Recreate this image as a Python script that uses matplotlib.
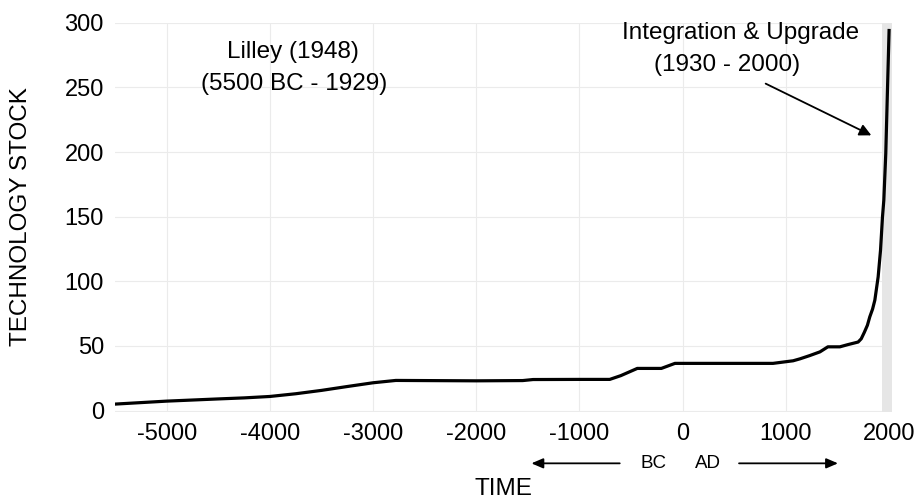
import matplotlib
matplotlib.use('Agg')
import matplotlib.pyplot as plt

plt.rcParams['font.family'] = ['Liberation Sans', 'DejaVu Sans']
plt.rcParams['axes.unicode_minus'] = False

# technology stock over time
years = [-5500, -5000, -4500, -4250, -4000, -3750, -3500, -3250, -3000, -2780,
         -2000, -1550, -1450, -1000, -707, -600, -440, -207, -75, 875,
         1070, 1136, 1230, 1330, 1407, 1523, 1600, 1700, 1730, 1760, 1790,
         1813, 1840, 1862, 1894, 1917, 1936, 1949, 1968, 1985, 2000]
stock = [5.0, 7.3, 9.0, 9.8, 10.9, 13.0, 15.6, 18.6, 21.5, 23.3,
         23.0, 23.2, 24.0, 24.1, 24.1, 27.0, 32.6, 32.6, 36.5, 36.5,
         38.5, 40.0, 42.5, 45.4, 49.3, 49.3, 51.0, 53.0, 55.5, 60.5, 66.0,
         72.5, 78.5, 85.4, 103.4, 124.0, 149.8, 162.7, 199.0, 250.0, 294.0]

x_ticks = [-5000, -4000, -3000, -2000, -1000, 0, 1000, 2000]
y_ticks = [0, 50, 100, 150, 200, 250, 300]

fig = plt.figure(figsize=(9.2, 5.01), dpi=100)
ax = fig.add_axes([0.125, 0.1782, 0.8442, 0.7764])

ax.set_xlim(-5501, 2025)
ax.set_ylim(-0.9, 299.7)
ax.set_xticks(x_ticks)
ax.set_yticks(y_ticks)
ax.grid(True, color='#ebebeb', lw=0.8)
ax.set_axisbelow(True)
for s in ax.spines.values():
    s.set_visible(False)
ax.tick_params(length=0, labelsize=17, colors='black')
ax.tick_params(axis='y', pad=8)
ax.tick_params(axis='x', pad=8)

# shaded period 1930-2000
ax.axvspan(1928, 2025, color='#e6e6e6', lw=0, zorder=1.5)
ax.plot(years, stock, color='black', lw=2.3, solid_joinstyle='round', zorder=3)

# annotations
ax.text(-3775, 273, 'Lilley (1948)', ha='center', va='baseline', fontsize=17.5)
ax.text(-3770, 247.7, '(5500 BC - 1929)', ha='center', va='baseline', fontsize=17.5)
ax.text(558, 287.6, 'Integration & Upgrade', ha='center', va='baseline', fontsize=17.5)
ax.text(429, 263, '(1930 - 2000)', ha='center', va='baseline', fontsize=17.5)
ax.annotate('', xy=(1828, 212.9), xytext=(804, 252.9),
            arrowprops=dict(arrowstyle='-|>,head_length=0.7,head_width=0.35',
                            color='black', lw=1.3, shrinkA=0, shrinkB=0))

# BC / AD markers under the axis
tr = ax.get_xaxis_transform()
ax.annotate('', xy=(-1466, -0.1327), xytext=(-610, -0.1327), xycoords=tr, textcoords=tr,
            arrowprops=dict(arrowstyle='-|>,head_length=0.7,head_width=0.3',
                            color='black', lw=1.3, shrinkA=0, shrinkB=0), annotation_clip=False)
ax.annotate('', xy=(1505, -0.1327), xytext=(546, -0.1327), xycoords=tr, textcoords=tr,
            arrowprops=dict(arrowstyle='-|>,head_length=0.7,head_width=0.3',
                            color='black', lw=1.3, shrinkA=0, shrinkB=0), annotation_clip=False)
ax.text(-284, -0.1455, 'BC', transform=tr, ha='center', va='baseline', fontsize=13.5)
ax.text(245, -0.1455, 'AD', transform=tr, ha='center', va='baseline', fontsize=13.5)

# axis titles
ax.text(0.5, -0.2141, 'TIME', transform=ax.transAxes, ha='center', va='baseline', fontsize=17.5)
fig.text(21 / 920, 1 - 217 / 501, 'TECHNOLOGY STOCK', rotation=90,
         ha='center', va='center', fontsize=17.5)

fig.savefig('out.png', dpi=100)
